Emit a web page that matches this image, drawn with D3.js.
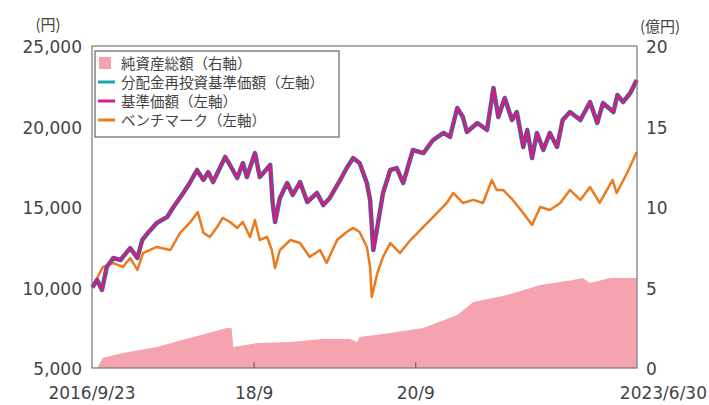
<!DOCTYPE html>
<html>
<head>
<meta charset="utf-8">
<script src="https://cdn.jsdelivr.net/npm/d3@7"></script>
<style>
  body { margin: 0; background: #fff; }
  svg { display: block; font-family: "Noto Sans CJK JP", "DejaVu Sans", sans-serif; }
</style>
</head>
<body>
<div id="chart"></div>
<script>
// 時点（小数の年）と各系列の値
const navTimes = [2016.73, 2016.79, 2016.85, 2016.91, 2016.99, 2017.08, 2017.20, 2017.29, 2017.35, 2017.42,
  2017.53, 2017.66, 2017.73, 2017.86, 2017.94, 2018.03, 2018.11, 2018.17, 2018.23, 2018.32,
  2018.38, 2018.44, 2018.53, 2018.60, 2018.65, 2018.75, 2018.81, 2018.94, 2018.97, 2019.00,
  2019.06, 2019.15, 2019.22, 2019.31, 2019.40, 2019.52, 2019.60, 2019.68, 2019.81, 2019.89,
  2019.97, 2020.05, 2020.14, 2020.18, 2020.22, 2020.27, 2020.34, 2020.43, 2020.51, 2020.59,
  2020.71, 2020.84, 2020.96, 2021.09, 2021.17, 2021.26, 2021.33, 2021.38, 2021.51, 2021.63,
  2021.71, 2021.77, 2021.85, 2021.94, 2022.00, 2022.08, 2022.13, 2022.19, 2022.25, 2022.33,
  2022.41, 2022.50, 2022.57, 2022.66, 2022.79, 2022.91, 2023.00, 2023.07, 2023.20, 2023.25,
  2023.32, 2023.41, 2023.49];
const navValues = [10000, 10470, 9850, 11270, 11830, 11710, 12450, 11830, 12950, 13390,
  14010, 14380, 14940, 15870, 16490, 17300, 16680, 17170, 16550, 17490,
  18110, 17610, 16800, 17730, 16860, 18350, 16860, 17610, 15250, 14070,
  15560, 16490, 15750, 16550, 15310, 15870, 15120, 15560, 16680, 17420,
  18040, 17730, 16490, 15440, 12330, 13760, 15870, 17300, 17420, 16490,
  18540, 18350, 19160, 19600, 19350, 21150, 20590, 19660, 20220, 19780,
  22390, 20590, 21770, 20400, 20900, 18730, 19780, 18040, 19600, 18540,
  19600, 18730, 20400, 20900, 20400, 21520, 20220, 21460, 20900, 21960,
  21520, 22080, 22890];
// 分配金実績なしのため基準価額と重なる
const reinvestValues = navValues.slice();

const benchTimes = [2016.73, 2016.86, 2016.99, 2017.11, 2017.20, 2017.29, 2017.36, 2017.53, 2017.70, 2017.82,
  2017.94, 2018.04, 2018.11, 2018.19, 2018.28, 2018.35, 2018.44, 2018.53, 2018.60, 2018.69,
  2018.75, 2018.81, 2018.90, 2018.96, 2019.00, 2019.06, 2019.19, 2019.31, 2019.43, 2019.56,
  2019.64, 2019.77, 2019.89, 2019.97, 2020.05, 2020.14, 2020.18, 2020.20, 2020.27, 2020.34,
  2020.43, 2020.55, 2020.68, 2020.84, 2021.01, 2021.13, 2021.21, 2021.33, 2021.46, 2021.58,
  2021.69, 2021.75, 2021.83, 2021.95, 2022.08, 2022.19, 2022.29, 2022.41, 2022.54, 2022.66,
  2022.79, 2022.91, 2023.03, 2023.19, 2023.24, 2023.37, 2023.49];
const benchValues = [10000, 11270, 11520, 11270, 11830, 11090, 12140, 12520, 12330, 13390,
  14010, 14690, 13390, 13140, 13760, 14320, 14070, 13700, 14070, 13140,
  14190, 12950, 13140, 12330, 11210, 12330, 12950, 12760, 11900, 12330,
  11520, 12950, 13450, 13700, 13450, 12520, 11270, 9410, 10900, 11900,
  12760, 12140, 12950, 13760, 14630, 15250, 15870, 15250, 15440, 15250,
  16680, 16060, 16060, 15440, 14630, 13880, 15000, 14810, 15250, 16060,
  15440, 16240, 15250, 16680, 15870, 17110, 18420];

const assetTimes = [2016.73, 2016.79, 2016.86, 2017.11, 2017.53, 2017.94, 2018.40, 2018.46, 2018.48, 2018.78,
  2019.19, 2019.59, 2019.93, 2020.02, 2020.05, 2020.43, 2020.84, 2021.26, 2021.46, 2021.88,
  2022.29, 2022.70, 2022.82, 2022.91, 2023.16, 2023.49];
const assetValues = [0, 0, 0.62, 0.93, 1.30, 1.86, 2.48, 2.48, 1.30, 1.55,
  1.61, 1.80, 1.80, 1.61, 1.93, 2.17, 2.48, 3.29, 4.10, 4.53,
  5.16, 5.47, 5.59, 5.28, 5.59, 5.59];

const leftTicks = [5000, 10000, 15000, 20000, 25000];
const rightTicks = [0, 5, 10, 15, 20];
const xTicks = [
  {date: "2016-09-23", label: "2016/9/23", anchor: "middle", mark: false},
  {date: "2018-09-28", label: "18/9", anchor: "middle", mark: true},
  {date: "2020-09-30", label: "20/9", anchor: "middle", mark: true},
  {date: "2023-06-30", label: "2023/6/30", anchor: "end", mark: false}
];
const legendItems = [
  {label: "純資産総額（右軸）", color: "#f5a3ae", type: "rect"},
  {label: "分配金再投資基準価額（左軸）", color: "#17a7b5", type: "line"},
  {label: "基準価額（左軸）", color: "#d41b86", type: "line"},
  {label: "ベンチマーク（左軸）", color: "#ec7a1e", type: "line"}
];

function yearToDate(t) {
  const y = Math.floor(t);
  const s = new Date(y, 0, 1), e = new Date(y + 1, 0, 1);
  return new Date(+s + (t - y) * (e - s));
}

const W = 709, H = 405;
const margin = {top: 46, right: 72, bottom: 37, left: 92};
const iw = W - margin.left - margin.right;
const ih = H - margin.top - margin.bottom;

const svg = d3.select("#chart").append("svg")
  .attr("width", W).attr("height", H);
const g = svg.append("g").attr("transform", `translate(${margin.left},${margin.top})`);

const x = d3.scaleTime()
  .domain([new Date(2016, 8, 23), new Date(2023, 5, 30)])
  .range([0, iw]);
const yL = d3.scaleLinear().domain([5000, 25000]).range([ih, 0]);
const yR = d3.scaleLinear().domain([0, 20]).range([ih, 0]);

// 純資産総額（面）
const assetData = assetTimes.map((t, i) => ({d: yearToDate(t), v: assetValues[i]}));
g.append("path")
  .datum(assetData)
  .attr("fill", "#f5a3ae")
  .attr("d", d3.area().x(d => x(d.d)).y0(ih).y1(d => yR(d.v)));

const line = d3.line().x(d => x(d.d)).y(d => yL(d.v));
const benchData = benchTimes.map((t, i) => ({d: yearToDate(t), v: benchValues[i]}));
const reinvData = navTimes.map((t, i) => ({d: yearToDate(t), v: reinvestValues[i]}));
const navData = navTimes.map((t, i) => ({d: yearToDate(t), v: navValues[i]}));

g.append("path").datum(benchData)
  .attr("fill", "none").attr("stroke", "#ec7a1e").attr("stroke-width", 2.5)
  .attr("stroke-linejoin", "round").attr("d", line);
g.append("path").datum(reinvData)
  .attr("fill", "none").attr("stroke", "#3a6a96").attr("stroke-width", 4.5)
  .attr("stroke-linejoin", "round").attr("d", line);
g.append("path").datum(navData)
  .attr("fill", "none").attr("stroke", "#d41b86").attr("stroke-width", 2.6)
  .attr("stroke-linejoin", "round").attr("d", line);

// 枠
g.append("rect")
  .attr("width", iw).attr("height", ih)
  .attr("fill", "none").attr("stroke", "#777").attr("stroke-width", 1.2);

// 軸ラベル
const tickStyle = sel => sel.attr("fill", "#444").attr("font-size", 17)
  .attr("font-family", "'DejaVu Sans', sans-serif");

g.selectAll(".lt").data(leftTicks).enter().append("text")
  .attr("x", -10).attr("y", d => yL(d) + 7)
  .attr("text-anchor", "end").text(d => d3.format(",")(d))
  .call(tickStyle);

g.selectAll(".rt").data(rightTicks).enter().append("text")
  .attr("x", iw + 9).attr("y", d => yR(d) + 7)
  .attr("text-anchor", "start").text(d => d)
  .call(tickStyle);

g.selectAll(".xt").data(xTicks).enter().append("text")
  .attr("x", d => d.anchor === "end" ? W - margin.left - 2 : x(new Date(d.date)))
  .attr("y", ih + 31)
  .attr("text-anchor", d => d.anchor).text(d => d.label)
  .call(tickStyle);

g.selectAll(".xm").data(xTicks.filter(d => d.mark)).enter().append("line")
  .attr("x1", d => x(new Date(d.date))).attr("x2", d => x(new Date(d.date)))
  .attr("y1", ih).attr("y2", ih - 6)
  .attr("stroke", "#555").attr("stroke-width", 1);

svg.append("text").attr("x", 48).attr("y", 30).attr("text-anchor", "middle")
  .attr("fill", "#444").attr("font-size", 15).text("(円)");
svg.append("text").attr("x", 660).attr("y", 32).attr("text-anchor", "middle")
  .attr("fill", "#444").attr("font-size", 15).text("(億円)");

// 凡例
const lg = svg.append("g").attr("transform", "translate(95,51)");
lg.append("rect").attr("width", 244).attr("height", 86)
  .attr("fill", "#fff").attr("stroke", "#666").attr("stroke-width", 1.2);
const rows = lg.selectAll(".li").data(legendItems).enter().append("g")
  .attr("transform", (d, i) => `translate(0,${12 + i * 19})`);
rows.filter(d => d.type === "rect").append("rect")
  .attr("x", 4).attr("y", -6).attr("width", 12).attr("height", 12).attr("fill", d => d.color);
rows.filter(d => d.type === "line").append("line")
  .attr("x1", 3).attr("x2", 20).attr("y1", 0).attr("y2", 0)
  .attr("stroke", d => d.color).attr("stroke-width", 3);
rows.append("text").attr("x", 26).attr("y", 5.5)
  .attr("fill", "#444").attr("font-size", 14.5).text(d => d.label);
</script>
</body>
</html>
